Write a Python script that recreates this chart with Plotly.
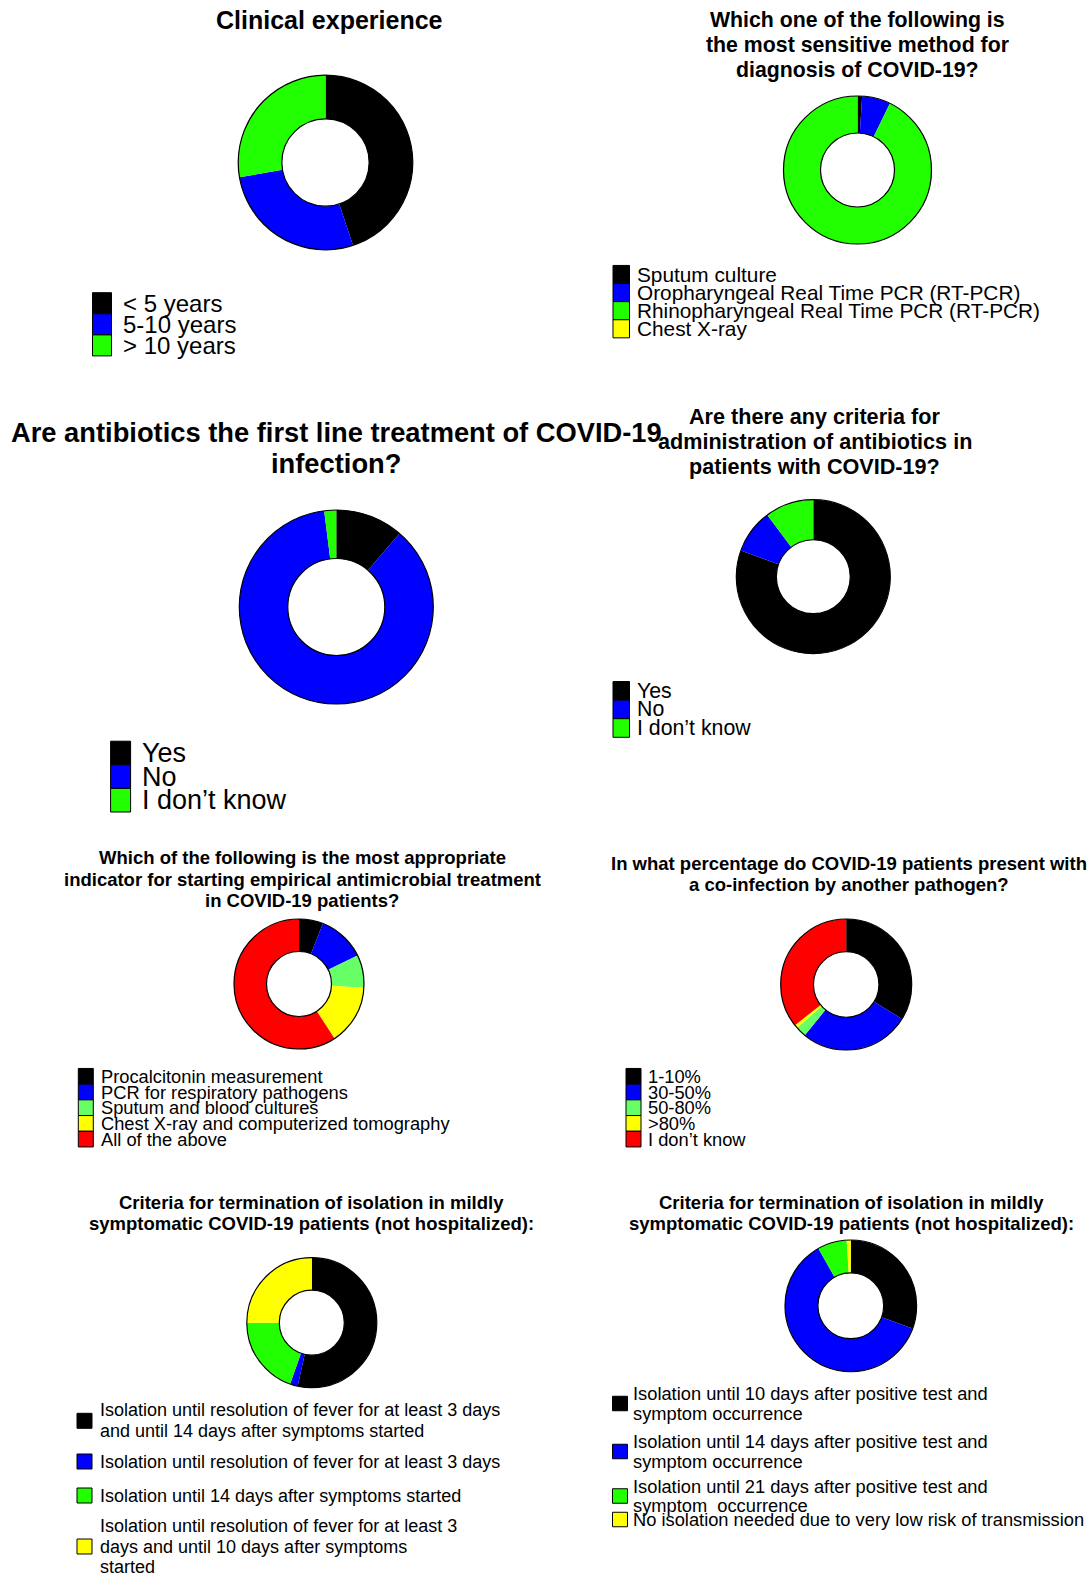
import plotly.graph_objects as go

W, H = 1089, 1576
FONT = "Liberation Sans, Arial, Helvetica, sans-serif"

# ---------------- data ----------------
exp_title = ["Clinical experience"]
exp_labels = ["< 5 years", "5-10 years", "> 10 years"]
exp_values = [44.9, 27.4, 27.7]

method_title = ["Which one of the following is", "the most sensitive method for", "diagnosis of COVID-19?"]
method_labels = ["Sputum culture", "Oropharyngeal Real Time PCR (RT-PCR)",
                 "Rhinopharyngeal Real Time PCR (RT-PCR)", "Chest X-ray"]
method_values = [1.0, 6.2, 92.8, 0.0]

abx_first_title = ["Are antibiotics the first line treatment of COVID-19", "infection?"]
abx_first_labels = ["Yes", "No", "I don’t know"]
abx_first_values = [11.3, 86.7, 2.0]

abx_crit_title = ["Are there any criteria for", "administration of antibiotics in", "patients with COVID-19?"]
abx_crit_labels = ["Yes", "No", "I don’t know"]
abx_crit_values = [80.5, 9.3, 10.2]

indicator_title = ["Which of the following is the most appropriate",
                   "indicator for starting empirical antimicrobial treatment",
                   "in COVID-19 patients?"]
indicator_labels = ["Procalcitonin measurement", "PCR for respiratory pathogens",
                    "Sputum and blood cultures", "Chest X-ray and computerized tomography",
                    "All of the above"]
indicator_values = [6.0, 11.8, 8.1, 14.9, 59.2]

coinf_title = ["In what percentage do COVID-19 patients present with",
               "a co-infection by another pathogen?"]
coinf_labels = ["1-10%", "30-50%", "50-80%", ">80%", "I don’t know"]
coinf_values = [33.8, 27.1, 2.6, 0.8, 35.7]

iso_title = ["Criteria for termination of isolation in mildly",
             "symptomatic COVID-19 patients (not hospitalized):"]
iso_a_labels = ["Isolation until resolution of fever for at least 3 days<br>and until 14 days after symptoms started",
                "Isolation until resolution of fever for at least 3 days",
                "Isolation until 14 days after symptoms started",
                "Isolation until resolution of fever for at least 3<br>days and until 10 days after symptoms<br>started"]
iso_a_values = [53.5, 1.9, 19.6, 25.0]

iso_b_labels = ["Isolation until 10 days after positive test and<br>symptom occurrence",
                "Isolation until 14 days after positive test and<br>symptom occurrence",
                "Isolation until 21 days after positive test and<br>symptom  occurrence",
                "No isolation needed due to very low risk of transmission"]
iso_b_values = [30.6, 61.2, 7.2, 1.0]

# ---------------- colours ----------------
BLACK, BLUE, GREEN, YELLOW, RED = "#000000", "#0000FF", "#22FF00", "#FFFF00", "#FF0000"
LGREEN = "#66FF66"
c3 = [BLACK, BLUE, GREEN]
c4 = [BLACK, BLUE, GREEN, YELLOW]
c5 = [BLACK, BLUE, LGREEN, YELLOW, RED]

fig = go.Figure()


def px_x(x):
    return x / W


def px_y(y):
    return 1 - y / H


def add_donut(labels, values, colors, cx, cy, r, hole=0.5):
    fig.add_trace(go.Pie(
        labels=labels, values=values, sort=False, direction="clockwise",
        hole=hole, textinfo="none", showlegend=False,
        marker=dict(colors=colors, line=dict(width=0)),
        domain=dict(x=[px_x(cx - r), px_x(cx + r)], y=[px_y(cy + r), px_y(cy - r)]),
    ))
    # thin black outline on the outer and inner rim
    for rr in (r, r * hole):
        fig.add_shape(type="circle", xref="paper", yref="paper", layer="above",
                      x0=px_x(cx - rr), x1=px_x(cx + rr), y0=px_y(cy + rr), y1=px_y(cy - rr),
                      line=dict(color="black", width=1.2), fillcolor="rgba(0,0,0,0)")


def add_title(lines, cx, y0, gap, size):
    for k, line in enumerate(lines):
        fig.add_annotation(x=px_x(cx), y=px_y(y0 + k * gap), xref="paper", yref="paper",
                           text="<b>" + line + "</b>", showarrow=False,
                           xanchor="center", yanchor="middle",
                           font=dict(family=FONT, size=size, color="black"))


def add_legend(labels, colors, sq_x, sq_w, sq_h, centers, text_x, size, line_gap):
    for lab, col, yc in zip(labels, colors, centers):
        fig.add_shape(type="rect", xref="paper", yref="paper", layer="above",
                      x0=px_x(sq_x), x1=px_x(sq_x + sq_w),
                      y0=px_y(yc + sq_h / 2), y1=px_y(yc - sq_h / 2),
                      fillcolor=col, line=dict(color="black", width=1))
        lines = lab.split("<br>")
        n = len(lines)
        for k, line in enumerate(lines):
            ly = yc + (k - (n - 1) / 2) * line_gap
            fig.add_annotation(x=px_x(text_x), y=px_y(ly), xref="paper", yref="paper",
                               text=line, showarrow=False, xanchor="left", yanchor="middle",
                               font=dict(family=FONT, size=size, color="black"))


def stacked(first, step, n):
    return [first + i * step for i in range(n)]


# Clinical experience
add_title(exp_title, 329.5, 20, 0, 25)
add_donut(exp_labels, exp_values, c3, 325.5, 162.5, 87.3)
add_legend(exp_labels, c3, 92.5, 19, 21, stacked(303.2, 21.1, 3), 120.5, 24, 0)

# Most sensitive diagnostic method
add_title(method_title, 857, 20.5, 24.6, 21.3)
add_donut(method_labels, method_values, c4, 857.5, 170, 74)
add_legend(method_labels, c4, 613, 16.5, 18.1, stacked(274.5, 18.1, 4), 635, 20.8, 0)

# Antibiotics as first line treatment
add_title(abx_first_title, 336, 432.5, 31.2, 27.3)
add_donut(abx_first_labels, abx_first_values, c3, 336.3, 607, 97)
add_legend(abx_first_labels, c3, 110.6, 20, 23.6, stacked(753, 23.6, 3), 139.5, 27, 0)

# Criteria for antibiotics
add_title(abx_crit_title, 814.5, 416.5, 25.1, 21.6)
add_donut(abx_crit_labels, abx_crit_values, c3, 813.3, 576.7, 77, hole=0.48)
add_legend(abx_crit_labels, c3, 613, 16.5, 18.6, stacked(690.8, 18.6, 3), 635, 21.3, 0)

# Indicator for empirical antimicrobial treatment
add_title(indicator_title, 302, 857.7, 21.6, 18.5)
add_donut(indicator_labels, indicator_values, c5, 299, 984, 65)
add_legend(indicator_labels, c5, 78.3, 15, 15.7, stacked(1076.3, 15.7, 5), 99, 18.3, 0)

# Co-infection
add_title(coinf_title, 848.5, 863.7, 21.1, 18.5)
add_donut(coinf_labels, coinf_values, c5, 846.2, 984.5, 65.5)
add_legend(coinf_labels, c5, 626, 15, 15.7, stacked(1076.3, 15.7, 5), 646.5, 18.3, 0)

# Termination of isolation (left)
add_title(iso_title, 311, 1202.6, 21.1, 18.5)
add_donut(iso_a_labels, iso_a_values, c4, 311.8, 1322.7, 65)
add_legend(iso_a_labels, c4, 77, 15, 15, [1420.8, 1461.5, 1495.5, 1546.5], 97.5, 18, 20.8)

# Termination of isolation (right)
add_title(iso_title, 851.5, 1202.6, 21.1, 18.5)
add_donut(iso_b_labels, iso_b_values, c4, 850.8, 1305.8, 65.8)
add_legend(iso_b_labels, c4, 612.5, 15, 14.5, [1403.5, 1451.5, 1496, 1519.5], 630.5, 18.3, 19.8)

fig.update_layout(
    width=W, height=H,
    margin=dict(l=0, r=0, t=0, b=0, pad=0),
    paper_bgcolor="white", plot_bgcolor="white",
    font=dict(family=FONT, color="black"),
    showlegend=False,
)

fig.write_html("out.html")
